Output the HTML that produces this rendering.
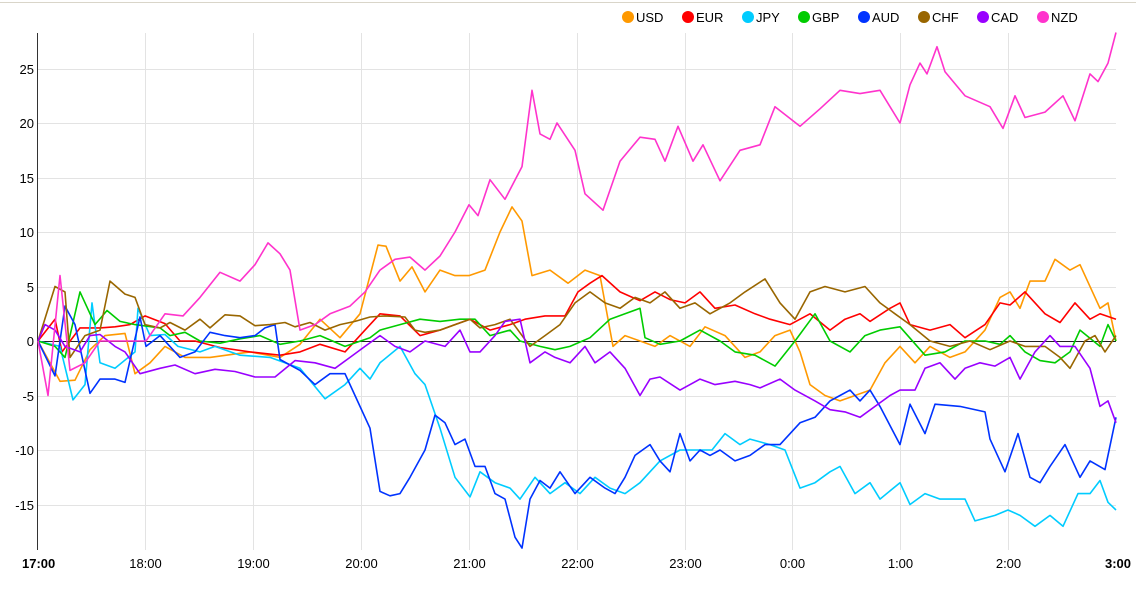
<!DOCTYPE html>
<html><head><meta charset="utf-8"><style>
html,body{margin:0;padding:0;background:#fff;width:1136px;height:591px;overflow:hidden}
svg{display:block;font-family:"Liberation Sans",Arial,sans-serif}
</style></head><body>
<svg id="c" width="1136" height="591" viewBox="0 0 1136 591"></svg>
<script>
var S={
USD:["#ff9900",[38,0,60,-3.7,75,-3.6,90,-0.8,105,0.5,125,0.7,135,-3,150,-2,165,-0.5,185,-1.5,210,-1.5,250,-1,280,-1.5,300,-0.3,320,2,340,0.3,360,2.5,378,8.8,386,8.7,400,5.5,412,6.8,425,4.5,440,6.5,455,6,469,6,485,6.5,500,10,512,12.3,522,11,532,6,550,6.5,568,5.3,585,6.5,600,6,613,-0.5,625,0.5,640,0,655,-0.5,670,0.5,690,-0.5,705,1.3,725,0.5,745,-1.5,760,-1,775,0.5,790,1,800,-1,810,-4,825,-5,840,-5.5,855,-5,870,-4.5,885,-2,900,-0.5,915,-2,930,-0.5,950,-1.5,965,-1,985,1,1000,4,1010,4.5,1020,3,1030,5.5,1045,5.5,1055,7.5,1070,6.5,1080,7,1100,3,1108,3.5,1116,0]],
EUR:["#ff0000",[38,0,55,2,62,-1,80,1.2,100,1.2,115,1.3,130,1.5,145,2.3,165,1.6,180,0,195,0,220,-0.6,250,-1,280,-1.3,300,-1,320,-0.3,345,-1,365,1,380,2.5,400,2.3,420,0.5,440,1,455,1.5,470,2,490,1,510,1.5,525,2,545,2.3,565,2.3,578,4.5,590,5.3,602,6,620,4.5,640,3.7,655,4.5,670,3.8,685,3.5,700,4.5,715,3,735,3.3,755,2.5,770,2,790,1.5,810,2.5,830,1,845,2,860,2.5,870,1.8,890,3,900,3.5,910,1.5,930,1,950,1.5,965,0.3,985,1.5,1000,3.5,1010,3.3,1025,4.5,1045,2.5,1060,1.7,1075,3.5,1090,2,1100,2.5,1116,2]],
JPY:["#00ccff",[38,0,60,-0.5,73,-5.4,85,-4,92,3.5,100,-2,115,-2.5,135,-1,138,3,150,0.5,165,0.6,178,-0.5,200,-1,215,-0.5,240,-1.3,270,-1.5,300,-2.5,325,-5.3,345,-4,360,-2.5,370,-3.5,380,-2,400,-0.5,415,-3,425,-4,440,-8,455,-12.5,470,-14.3,480,-12,495,-13,510,-13.5,520,-14.5,535,-12.5,550,-14,565,-13,580,-14,595,-12.5,610,-13.5,625,-14,640,-13,660,-11,680,-10,695,-10,712,-10,725,-8.5,740,-9.5,750,-9,770,-9.5,785,-10,800,-13.5,815,-13,830,-12,840,-11.5,855,-14,870,-13,880,-14.5,900,-13,910,-15,925,-14,940,-14.5,965,-14.5,975,-16.5,995,-16,1008,-15.5,1020,-16,1035,-17,1050,-16,1063,-17,1078,-14,1090,-14,1100,-12.8,1108,-14.8,1116,-15.5]],
GBP:["#00cc00",[38,0,55,-0.5,65,-1.5,80,4.5,95,1.5,107,2.8,120,1.8,135,1.5,160,1.2,170,0.5,185,0.8,200,0,220,-0.2,240,0.2,260,0.5,280,-0.3,300,0,320,0.5,345,-0.5,370,0.3,380,1,400,1.5,420,2,440,1.8,460,2,475,2,490,0.5,510,1,520,0,540,-0.5,555,-0.8,570,-0.5,590,0.3,610,2,625,2.5,640,3,645,0.3,660,-0.3,680,0,700,1,720,0,735,-1,755,-1.3,775,-2.3,795,0,815,2.5,830,0,850,-1,865,0.5,880,1,900,1.3,925,-1.3,945,-1,965,0,985,0,1000,-0.3,1010,0.5,1025,-1,1040,-1.8,1055,-2,1070,-1,1080,1,1100,-0.5,1108,1.5,1116,0]],
AUD:["#0033ff",[38,0,55,-3.2,65,3.2,75,1.5,90,-4.8,100,-3.5,115,-3.5,125,-3.8,140,2.2,146,-0.5,160,0.5,180,-1.5,195,-1,210,0.8,225,0.5,240,0.3,255,0.5,265,1.2,275,1.5,280,-1.7,300,-2.7,315,-4,330,-3,345,-3,355,-5,370,-8,380,-13.8,390,-14.2,400,-14,410,-12.5,425,-10,435,-6.8,445,-7.5,455,-9.5,465,-9,475,-11.5,485,-11.5,495,-14,505,-14.5,515,-18,522,-19,530,-14.5,540,-12.8,550,-13.5,560,-12,575,-14,590,-12.5,605,-13.5,615,-14,625,-12.5,635,-10.5,650,-9.5,660,-11,670,-12,680,-8.5,690,-11,700,-10,710,-10.5,720,-10,735,-11,750,-10.5,765,-9.5,780,-9.5,800,-7.5,815,-7,830,-5.5,840,-5,850,-4.5,860,-5.5,870,-4.5,880,-6,900,-9.5,910,-5.8,925,-8.5,935,-5.8,960,-6,985,-6.5,990,-9,1005,-12,1018,-8.5,1030,-12.5,1040,-13,1050,-11.5,1065,-9.5,1080,-12.5,1090,-11,1105,-11.8,1116,-7]],
CHF:["#996600",[38,0,55,5,65,4.5,70,-1.5,85,0.5,100,1,110,5.5,125,4.3,135,4,145,1.5,160,1.2,170,1.7,185,1,200,2,210,1.2,225,2.4,240,2.3,255,1.4,270,1.5,285,1.7,295,1.3,310,1.7,325,1,340,1.5,355,1.8,370,2.2,385,2.3,405,2.2,415,1,425,0.8,440,1,455,1.5,470,2,480,1.2,495,1.5,510,2,530,-0.5,545,0.5,560,1.5,575,3.5,590,4.5,605,3.5,620,3,635,4,650,3.5,665,4.5,680,3,695,3.5,710,2.5,730,3.5,745,4.5,765,5.7,780,3.5,795,2,810,4.5,825,5,845,4.5,865,5,880,3.5,895,2.5,910,1.5,930,0,950,-0.5,970,0,990,-0.8,1010,0,1025,-0.5,1045,-0.5,1060,-1.5,1070,-2.5,1085,0,1095,0.5,1105,-1,1116,0.5]],
CAD:["#9900ff",[38,0,45,1.5,55,1,65,-0.5,80,-1,90,0.5,100,0.6,115,-0.5,125,-1,140,-3,160,-2.5,175,-2.2,195,-3,215,-2.6,235,-2.8,255,-3.3,275,-3.3,295,-1.8,315,-2,335,-2.5,350,-1.5,365,-0.5,380,0.5,395,-0.5,410,-1,425,0,445,-0.5,460,1,470,-1,480,-1,495,0.5,505,1.8,520,2,530,-2,545,-1,555,-1.5,570,-2,585,-0.5,595,-2,610,-1,625,-2.5,640,-5,650,-3.5,660,-3.3,680,-4.5,700,-3.5,715,-4,735,-3.7,750,-4,760,-4.3,780,-3.5,795,-4.5,815,-5.5,830,-6.3,845,-6.5,860,-7,875,-6,890,-5,900,-4.5,915,-4.5,925,-2.5,940,-2,955,-3.5,965,-2.5,980,-2,995,-2.3,1010,-1.5,1020,-3.5,1035,-1,1050,0.5,1060,-0.5,1075,-0.5,1090,-2.5,1100,-6,1108,-5.5,1116,-7.5]],
NZD:["#ff33cc",[38,0,48,-5,60,6,70,-2.7,85,-2,100,0,125,0,146,0,165,2.5,183,2.3,200,4,220,6.3,240,5.5,255,7,268,9,280,8,290,6.5,300,1,315,1.5,330,2.5,350,3.2,365,4.5,380,6.5,395,7.5,410,7.7,425,6.5,440,7.8,455,10,469,12.5,478,11.5,490,14.8,505,13,522,16,532,23,540,19,550,18.5,557,20,575,17.5,585,13.5,603,12,620,16.5,640,18.7,655,18.5,665,16.5,678,19.7,693,16.5,703,18,720,14.7,740,17.5,760,18,775,21.5,800,19.7,820,21.3,840,23,860,22.7,880,23,890,21.5,900,20,910,23.5,920,25.5,927,24.5,937,27,945,24.7,965,22.5,990,21.5,1003,19.5,1015,22.5,1025,20.5,1045,21,1063,22.5,1075,20.2,1090,24.5,1098,23.8,1108,25.5,1116,28.3]]
};
var h='';
h+='<line x1="0" y1="2.5" x2="1136" y2="2.5" stroke="#d9d5c9" stroke-width="1"/>';
for(var v=-15;v<=25;v+=5){var y=Math.round(341-v*10.9)+0.5;h+='<line x1="38" x2="1116" y1="'+y+'" y2="'+y+'" stroke="#e3e3e3"/>';
h+='<text x="34" y="'+(y+4.5)+'" text-anchor="end" font-size="13" fill="#000">'+v+'</text>';}
var labs=["17:00","18:00","19:00","20:00","21:00","22:00","23:00","0:00","1:00","2:00","3:00"];
for(var i=0;i<=10;i++){var x=Math.round(37.5+i*107.85)+0.5;if(i>0&&i<10)h+='<line x1="'+x+'" x2="'+x+'" y1="33" y2="550" stroke="#e3e3e3"/>';
var anc=i==0?'start':(i==10?'end':'middle');var tx=i==0?22:(i==10?1131:x);
h+='<text x="'+tx+'" y="568" text-anchor="'+anc+'" font-size="13" '+((i==0||i==10)?'font-weight="bold"':'')+' fill="#000">'+labs[i]+'</text>';}
h+='<line x1="38" x2="1116" y1="341.5" y2="341.5" stroke="#222"/>';
h+='<line x1="37.5" x2="37.5" y1="33" y2="550" stroke="#333"/>';
for(var k in S){var a=S[k][1],p=[];for(var j=0;j<a.length;j+=2)p.push(a[j]+','+(341-a[j+1]*10.9).toFixed(1));
h+='<polyline points="'+p.join(' ')+'" fill="none" stroke="'+S[k][0]+'" stroke-width="1.6" stroke-linejoin="round"/>';}
var lx=[628,688,748,804,864,924,983,1043],n=0;
for(var k in S){h+='<circle cx="'+lx[n]+'" cy="17" r="6" fill="'+S[k][0]+'"/><text x="'+(lx[n]+8)+'" y="22" font-size="13" fill="#000">'+k+'</text>';n++;}
document.getElementById('c').innerHTML=h;
</script>
</body></html>
